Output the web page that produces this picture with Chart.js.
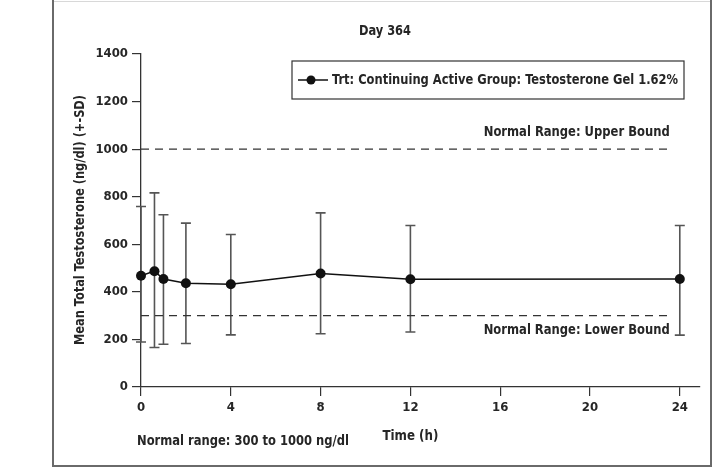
<!DOCTYPE html>
<html><head><meta charset="utf-8">
<script src="https://cdn.jsdelivr.net/npm/chart.js@4"></script>
<style>html,body{margin:0;padding:0;background:#fff}#wrap{width:715px;height:467px;position:relative}</style>
</head><body><div id="wrap"><canvas id="c"></canvas></div>
<script>
const times=[0,0.6,1,2,4,8,12,24];
const means=[468,487,454,436,432,477,453,454];
const sdUpper=[759,816,724,689,641,732,679,679];
const sdLower=[189,166,180,183,219,224,231,218];
const xTicks=[0,4,8,12,16,20,24];
const yTicks=[0,200,400,600,800,1000,1200,1400];
const normalLower=300, normalUpper=1000;
const refLineEnd=23.55;
const seriesLabel='Trt: Continuing Active Group: Testosterone Gel 1.62%';
const titleText='Day 364';
const xTitle='Time (h)';
const yTitle='Mean Total Testosterone (ng/dl) (+-SD)';
const upperLabel='Normal Range: Upper Bound';
const lowerLabel='Normal Range: Lower Bound';
const noteText='Normal range: 300 to 1000 ng/dl';

const FONT='"Liberation Sans Narrow","DejaVu Sans Condensed","Liberation Sans",Arial,sans-serif';
const TICKFONT='"DejaVu Sans Condensed","Liberation Sans Narrow",Arial,sans-serif';
Chart.defaults.font.family=FONT;
Chart.defaults.font.weight='bold';
Chart.defaults.font.size=13;
Chart.defaults.color='#262626';

// draw text stretched horizontally to a given width
function fitText(c,text,x,y,align,width){
  const w=c.measureText(text).width;const k=width/w;
  c.save();c.translate(x,y);c.scale(k,1);c.textAlign=align;c.fillText(text,0,0);c.restore();
}

const deco={
  id:'deco',
  beforeDraw(chart){
    const c=chart.ctx;c.save();
    c.fillStyle='#fff';c.fillRect(0,0,chart.width,chart.height);
    c.strokeStyle='#d8d8d8';c.lineWidth=1;
    c.beginPath();c.moveTo(52,1.5);c.lineTo(712,1.5);c.stroke();
    c.strokeStyle='#6a6a6a';c.lineWidth=2;
    c.beginPath();c.moveTo(53,0);c.lineTo(53,466);c.lineTo(712,466);c.moveTo(711,0);c.lineTo(711,466);c.stroke();
    c.restore();
  },
  beforeDatasetsDraw(chart){
    const c=chart.ctx,xs=chart.scales.x,ys=chart.scales.y;
    c.save();c.strokeStyle='#555';c.lineWidth=1.6;
    times.forEach((t,i)=>{
      const x=xs.getPixelForValue(t),yt=ys.getPixelForValue(sdUpper[i]),yb=ys.getPixelForValue(sdLower[i]);
      c.beginPath();c.moveTo(x,yt);c.lineTo(x,yb);
      c.moveTo(x-5,yt);c.lineTo(x+5,yt);c.moveTo(x-5,yb);c.lineTo(x+5,yb);c.stroke();
    });
    c.restore();
  },
  afterDraw(chart){
    const c=chart.ctx,xs=chart.scales.x,ys=chart.scales.y;
    c.save();c.fillStyle='#262626';c.textBaseline='middle';
    c.font='bold 14px '+FONT;
    fitText(c,titleText,385,31,'center',52);
    fitText(c,xTitle,(xs.getPixelForValue(0)+xs.getPixelForValue(24))/2,436,'center',56);
    fitText(c,noteText,137,441,'left',212);
    c.save();c.translate(80,220);c.rotate(-Math.PI/2);fitText(c,yTitle,0,0,'center',250);c.restore();
    const xr=xs.getPixelForValue(refLineEnd);
    fitText(c,upperLabel,xr,ys.getPixelForValue(normalUpper)-17,'right',186);
    fitText(c,lowerLabel,xr,ys.getPixelForValue(normalLower)+15,'right',186);
    // legend
    c.strokeStyle='#333';c.lineWidth=1.2;c.strokeRect(292,61,392,38);
    c.strokeStyle='#111';c.lineWidth=1.5;c.beginPath();c.moveTo(298,80);c.lineTo(328,80);c.stroke();
    c.fillStyle='#111';c.beginPath();c.arc(311,80,4.5,0,Math.PI*2);c.fill();
    c.fillStyle='#262626';
    fitText(c,seriesLabel,332,80,'left',346);
    c.restore();
  }
};

const tickSet=arr=>s=>{s.ticks=arr.map(v=>({value:v}));};
new Chart(document.getElementById('c'),{
  type:'line',
  data:{datasets:[
    {label:seriesLabel,data:times.map((t,i)=>({x:t,y:means[i]})),borderColor:'#111',backgroundColor:'#111',borderWidth:1.5,pointRadius:5,pointBackgroundColor:'#111',pointBorderWidth:0,tension:0,clip:false,order:0},
    {label:upperLabel,data:[{x:0,y:normalUpper},{x:refLineEnd,y:normalUpper}],borderColor:'#333',borderWidth:1.2,borderDash:[8,6],pointRadius:0,order:1},
    {label:lowerLabel,data:[{x:0,y:normalLower},{x:refLineEnd,y:normalLower}],borderColor:'#333',borderWidth:1.2,borderDash:[8,6],pointRadius:0,order:1}
  ]},
  options:{
    responsive:true,maintainAspectRatio:false,animation:false,
    layout:{padding:{left:0,top:54,right:15,bottom:0}},
    plugins:{legend:{display:false},tooltip:{enabled:false},title:{display:false}},
    scales:{
      x:{type:'linear',min:0,max:24.9,afterBuildTicks:tickSet(xTicks),
        grid:{display:true,drawOnChartArea:false,drawTicks:true,tickLength:9,color:'#333',lineWidth:1.2},
        border:{display:true,color:'#333',width:1.3},
        ticks:{padding:4,autoSkip:false,maxRotation:0,font:{family:TICKFONT,size:13,weight:'bold'},color:'#262626',callback:v=>String(v)},
        afterFit:s=>{s.height=80;}},
      y:{type:'linear',min:0,max:1400,afterBuildTicks:tickSet(yTicks),
        grid:{display:true,drawOnChartArea:false,drawTicks:true,tickLength:9,color:'#333',lineWidth:1.2},
        border:{display:true,color:'#333',width:1.3},
        ticks:{padding:4,autoSkip:false,font:{family:TICKFONT,size:13,weight:'bold'},color:'#262626',callback:v=>String(v)},
        afterFit:s=>{s.width=141;}}
    }
  },
  plugins:[deco]
});
</script></body></html>
